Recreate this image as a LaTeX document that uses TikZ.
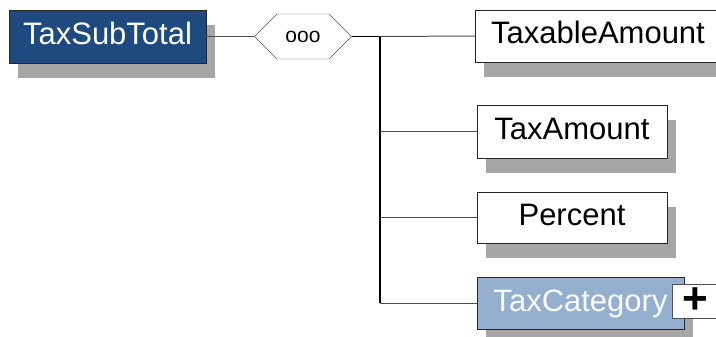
\documentclass[tikz,border=0pt]{standalone}
\usepackage{fontspec}
\setmainfont{Liberation Sans}
\usetikzlibrary{shapes.symbols, shadows}
\definecolor{subblue}{HTML}{1F4A7F}
\definecolor{catblue}{HTML}{95AFCF}
\definecolor{shadowgray}{HTML}{A6A6A6}
\definecolor{linegray}{HTML}{505050}
\begin{document}
\begin{tikzpicture}[
    x=1pt, y=-1pt,
    elem/.style={draw=black!85, rectangle, fill=white, inner sep=0pt, minimum height=52pt,
        text height=22pt, text depth=6pt, font=\fontsize{31}{36}\selectfont,
        general shadow={fill=shadowgray, shadow xshift=9pt, shadow yshift=-15pt}},
    seqbox/.style={draw=linegray, signal, signal to=west and east, signal pointer angle=90,
        inner sep=0pt, minimum width=97pt, minimum height=45pt, font=\fontsize{21}{24}\selectfont},
    plusbox/.style={draw=linegray, rectangle, fill=white, inner sep=0pt, minimum width=46pt,
        minimum height=34pt, font=\fontsize{44}{44}\selectfont\bfseries},
    branch/.style={draw=linegray, line width=1pt},
    trunkline/.style={draw=black, line width=1.4pt}
]
\useasboundingbox (0,0) rectangle (716,337);

% Elemente
\node[elem, fill=subblue, text=white, minimum width=197pt, minimum height=53pt] (sub) at (107.5,36.5) {TaxSubTotal};
\node[seqbox] (seq) at (303,36.5) {ooo};

\node[elem, minimum width=246pt] (taxable) at (598,36) {TaxableAmount};
\node[elem, minimum width=190pt, minimum height=53pt] (amount) at (572,131.5) {TaxAmount};
\node[elem, minimum width=190pt, minimum height=51pt] (percent) at (572,217.5) {Percent};
\node[elem, fill=catblue, text=white!95!catblue, minimum width=207pt] (category) at (580.5,303) {TaxCategory};
\node[plusbox] (plus) at (695,301) {+};

% Verbindungen
\coordinate (trunk) at (380,36.5);
\coordinate (trunkEnd) at (380,303);
\draw[branch] (sub.east) -- (seq.west);
\draw[trunkline] (seq.east) -- (trunk) -- (trunkEnd);
\draw[branch] (trunk) -- (taxable.west);
\draw[branch] (trunk |- amount) -- (amount.west);
\draw[branch] (trunk |- percent) -- (percent.west);
\draw[branch] (trunkEnd) -- (category.west);

\end{tikzpicture}
\end{document}
